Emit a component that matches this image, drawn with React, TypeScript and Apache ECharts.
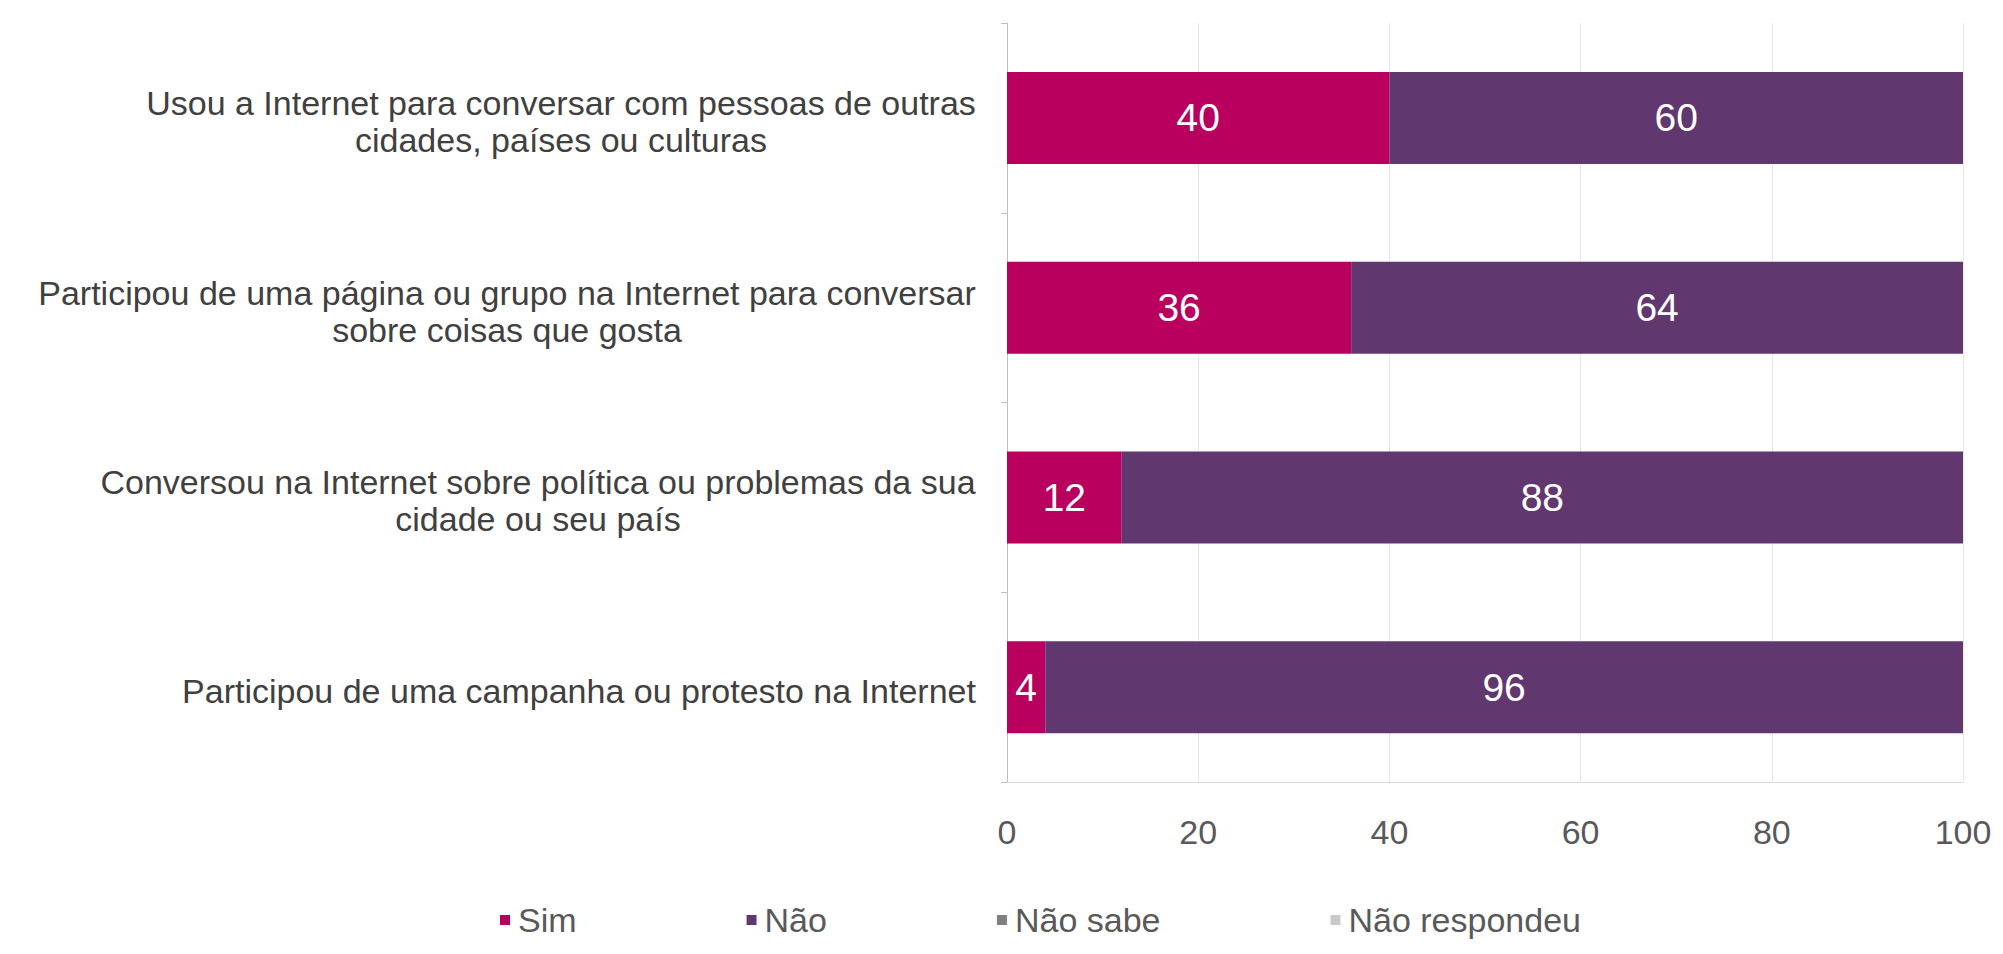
import React, { useEffect, useRef } from "react";
import * as echarts from "echarts";

const categories = [
  "Usou a Internet para conversar com pessoas de outras\ncidades, países ou culturas",
  "Participou de uma página ou grupo na Internet para conversar\nsobre coisas que gosta",
  "Conversou na Internet sobre política ou problemas da sua\ncidade ou seu país",
  "Participou de uma campanha ou protesto na Internet",
];
const seriesNames = ["Sim", "Não", "Não sabe", "Não respondeu"];
const simValues = [40, 36, 12, 4];
const naoValues = [60, 64, 88, 96];
const naoSabeValues = [0, 0, 0, 0];
const naoRespondeuValues = [0, 0, 0, 0];
const xTicks = [0, 20, 40, 60, 80, 100];

const FONT = "'Liberation Sans', Arial, Helvetica, sans-serif";
const CAT_SIZE = 34;

function measure(text: string, size: number): number {
  const ctx = document.createElement("canvas").getContext("2d");
  if (!ctx) return text.length * size * 0.5;
  ctx.font = `${size}px ${FONT}`;
  return ctx.measureText(text).width;
}

export default function App() {
  const ref = useRef<HTMLDivElement>(null);
  useEffect(() => {
    document.body.style.margin = "0";
    if (!ref.current) return;
    const chart = echarts.init(ref.current, undefined, { renderer: "svg" });

    const rich: Record<string, any> = {};
    categories.forEach((c, i) => {
      const lines = c.split("\n");
      const w = Math.ceil(Math.max(...lines.map((l) => measure(l, CAT_SIZE)))) + 2;
      rich["c" + i] = {
        width: w,
        align: "center",
        fontSize: CAT_SIZE,
        fontFamily: FONT,
        color: "#404040",
        lineHeight: 37,
      };
    });

    const colors = ["#B9005F", "#613770", "#7F7F7F", "#C9C9C9"];
    const dataSets = [simValues, naoValues, naoSabeValues, naoRespondeuValues];

    chart.setOption({
      animation: false,
      backgroundColor: "#ffffff",
      color: colors,
      grid: { left: 1007, right: 40, top: 23, bottom: 172 },
      xAxis: {
        type: "value",
        min: xTicks[0],
        max: xTicks[xTicks.length - 1],
        interval: 20,
        axisLine: { show: true, lineStyle: { color: "#d9d9d9", width: 1 } },
        axisTick: { show: false },
        splitLine: { show: true, lineStyle: { color: "#e6e6e6", width: 1 } },
        axisLabel: {
          margin: 33,
          fontSize: 34,
          fontFamily: FONT,
          color: "#595959",
        },
      },
      yAxis: {
        type: "category",
        inverse: true,
        data: categories,
        axisLine: { show: true, lineStyle: { color: "#bfbfbf", width: 1 } },
        axisTick: { show: true, length: 6, lineStyle: { color: "#bfbfbf" } },
        axisLabel: {
          margin: 30,
          fontSize: CAT_SIZE,
          fontFamily: FONT,
          color: "#404040",
          lineHeight: 37,
          padding: [7, 0, 0, 0],
          formatter: (value: string, index: number) =>
            value
              .split("\n")
              .map((l) => `{c${index}|${l}}`)
              .join("\n"),
          rich,
        },
      },
      legend: {
        left: 500,
        top: 903,
        padding: 0,
        icon: "rect",
        itemWidth: 10,
        itemHeight: 10,
        itemGap: 170,
        data: seriesNames,
        textStyle: { fontSize: 34, fontFamily: FONT, color: "#595959", padding: [0, 0, 0, 3] },
      },
      series: seriesNames.map((name, i) => ({
        name,
        type: "bar",
        stack: "total",
        barWidth: 92,
        data: dataSets[i],
        itemStyle: { color: colors[i] },
        label: {
          show: true,
          position: "inside",
          fontSize: 39,
          fontFamily: FONT,
          color: "#ffffff",
          formatter: (p: any) => (p.value > 0 ? String(p.value) : ""),
        },
      })),
    });
    return () => chart.dispose();
  }, []);
  return <div ref={ref} style={{ width: 2003, height: 954 }} />;
}
